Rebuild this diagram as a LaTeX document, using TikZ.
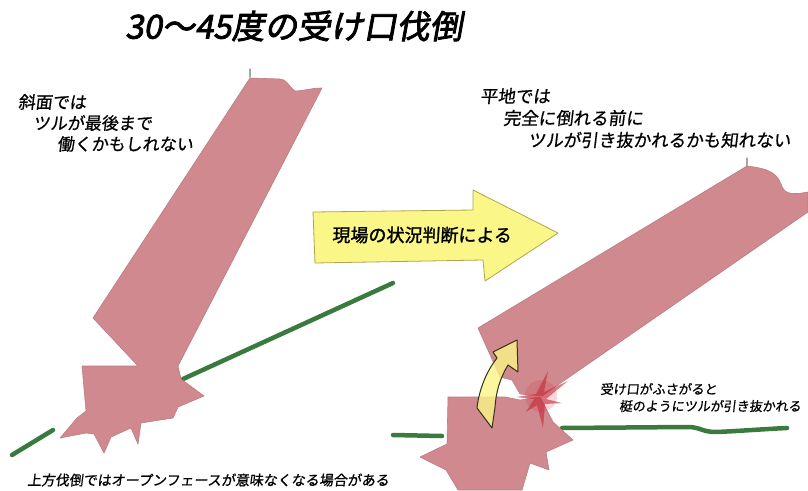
\documentclass[tikz,border=0pt]{standalone}
\usepackage{fontspec}
\newfontfamily\jp{Noto Sans CJK JP}[FakeBold=0.8,FakeSlant=0.12]
\newfontfamily\jpbold{Noto Sans CJK JP}[FakeBold=2.5,FakeSlant=0.18]
\newfontfamily\jpmid{Noto Sans CJK JP}[FakeBold=1.5,FakeSlant=0.05]
\definecolor{wood}{RGB}{208,138,143}
\definecolor{woodedge}{RGB}{185,125,130}
\definecolor{ground}{RGB}{58,122,62}
\definecolor{arrowfill}{RGB}{250,246,135}
\definecolor{arrowedge}{RGB}{175,165,80}
\definecolor{crack}{RGB}{200,40,55}
\tikzset{
  trunk/.style={fill=wood, draw=woodedge, line width=0.6pt, line join=round},
  groundline/.style={draw=ground, line width=4.5pt, line cap=round},
  label/.style={inner sep=0pt, anchor=west, text=black},
  tip/.style={draw=gray!70, line width=1.2pt, line cap=round},
}
\begin{document}
\begin{tikzpicture}[x=1pt,y=-1pt]
\useasboundingbox (0,0) rectangle (808,490);
\fill[white] (0,0) rectangle (808,490);

% title
\node[label] (title) at (125,26) {\jpbold\fontsize{33}{33}\selectfont 30～45度の受け口伐倒};

% ---- left: felling on a slope ----
\draw[groundline] (12,455) -- (53,430);
\draw[groundline] (183,379) -- (393,283);
\draw[tip] (250,69) -- (250,77);
\draw[trunk] (250,78) -- (280,79) .. controls (287,79) and (288,86) .. (295,91)
  .. controls (302,91) and (312,88) .. (322,88) -- (178,366) -- (181,379) -- (204,396) -- (178,407) -- (173,418)
  -- (141,423) -- (138,444) -- (131,428) -- (111,437) -- (104,453) -- (94,434)
  -- (86,433) -- (60,438) -- (77,418) -- (86,411) -- (82,366) -- (138,366)
  -- (93,318) -- cycle;

\node[label] (slope1) at (18,102) {\jp\fontsize{17}{17}\selectfont 斜面では};
\node[label] (slope2) at (33,123) {\jp\fontsize{17}{17}\selectfont ツルが最後まで};
\node[label] (slope3) at (57,144) {\jp\fontsize{17}{17}\selectfont 働くかもしれない};

\node[label] (note) at (27,480) {\jp\fontsize{14}{14}\selectfont 上方伐倒ではオープンフェースが意味なくなる場合がある};

% ---- middle: decision arrow ----
\draw[fill=arrowfill, draw=arrowedge, line width=0.8pt, line join=round]
  (313,212) -- (473,210) -- (473,190) -- (558,233) -- (485,281) -- (483,260)
  -- (315,263) -- cycle;
\node[label] (decide) at (332,235) {\jpmid\fontsize{18}{18}\selectfont 現場の状況判断による};

% ---- right: felling on flat ground ----
\draw[groundline] (393,435) -- (442,436);
\draw[groundline] (562,428) -- (688,427) .. controls (700,427) and (702,432) .. (716,432)
  .. controls (740,431) and (765,429) .. (787,428);
\draw[trunk] (448,397) -- (505,397) -- (520,400) -- (540,397) -- (553,422)
  -- (573,440) -- (546,452) -- (549,470) -- (530,463) -- (522,490) -- (458,490)
  -- (446,470) -- (420,457) -- (447,444) -- cycle;
\draw[tip] (747,158) -- (747,166);
\draw[trunk] (478,328) -- (747,166) .. controls (762,168) and (776,170) .. (781,184)
  .. controls (784,192) and (787,196) .. (808,192) -- (808,212) -- (565,380)
  -- (542,396) -- (520,394) -- (512,380) -- (500,377) -- cycle;

% crack at the hinge
\fill[crack, opacity=0.18] (541,396) circle (16);
\fill[crack, opacity=0.6]
  (548,371) -- (544,392) -- (568,381) -- (546,399) -- (562,403) -- (545,404)
  -- (543,428) -- (537,405) -- (526,412) -- (534,399) -- (516,397) -- (536,394)
  -- cycle;

% closing notch
\draw[fill=arrowfill, fill opacity=0.8, draw=black!70!arrowedge, line width=1pt, line join=round]
  (492,428) -- (477,408) .. controls (479,390) and (486,372) .. (497,358)
  -- (493,352) -- (517,340) -- (518,372) -- (508,365)
  .. controls (500,378) and (496,392) .. (495,407) -- cycle;

\node[label] (flat1) at (480,96) {\jp\fontsize{17.5}{17.5}\selectfont 平地では};
\node[label] (flat2) at (503,118) {\jp\fontsize{17.5}{17.5}\selectfont 完全に倒れる前に};
\node[label] (flat3) at (528,140) {\jp\fontsize{17.5}{17.5}\selectfont ツルが引き抜かれるかも知れない};

\node[label] (lever1) at (600,389) {\jp\fontsize{13}{13}\selectfont 受け口がふさがると};
\node[label] (lever2) at (619,406) {\jp\fontsize{13}{13}\selectfont 梃のようにツルが引き抜かれる};
\end{tikzpicture}
\end{document}
